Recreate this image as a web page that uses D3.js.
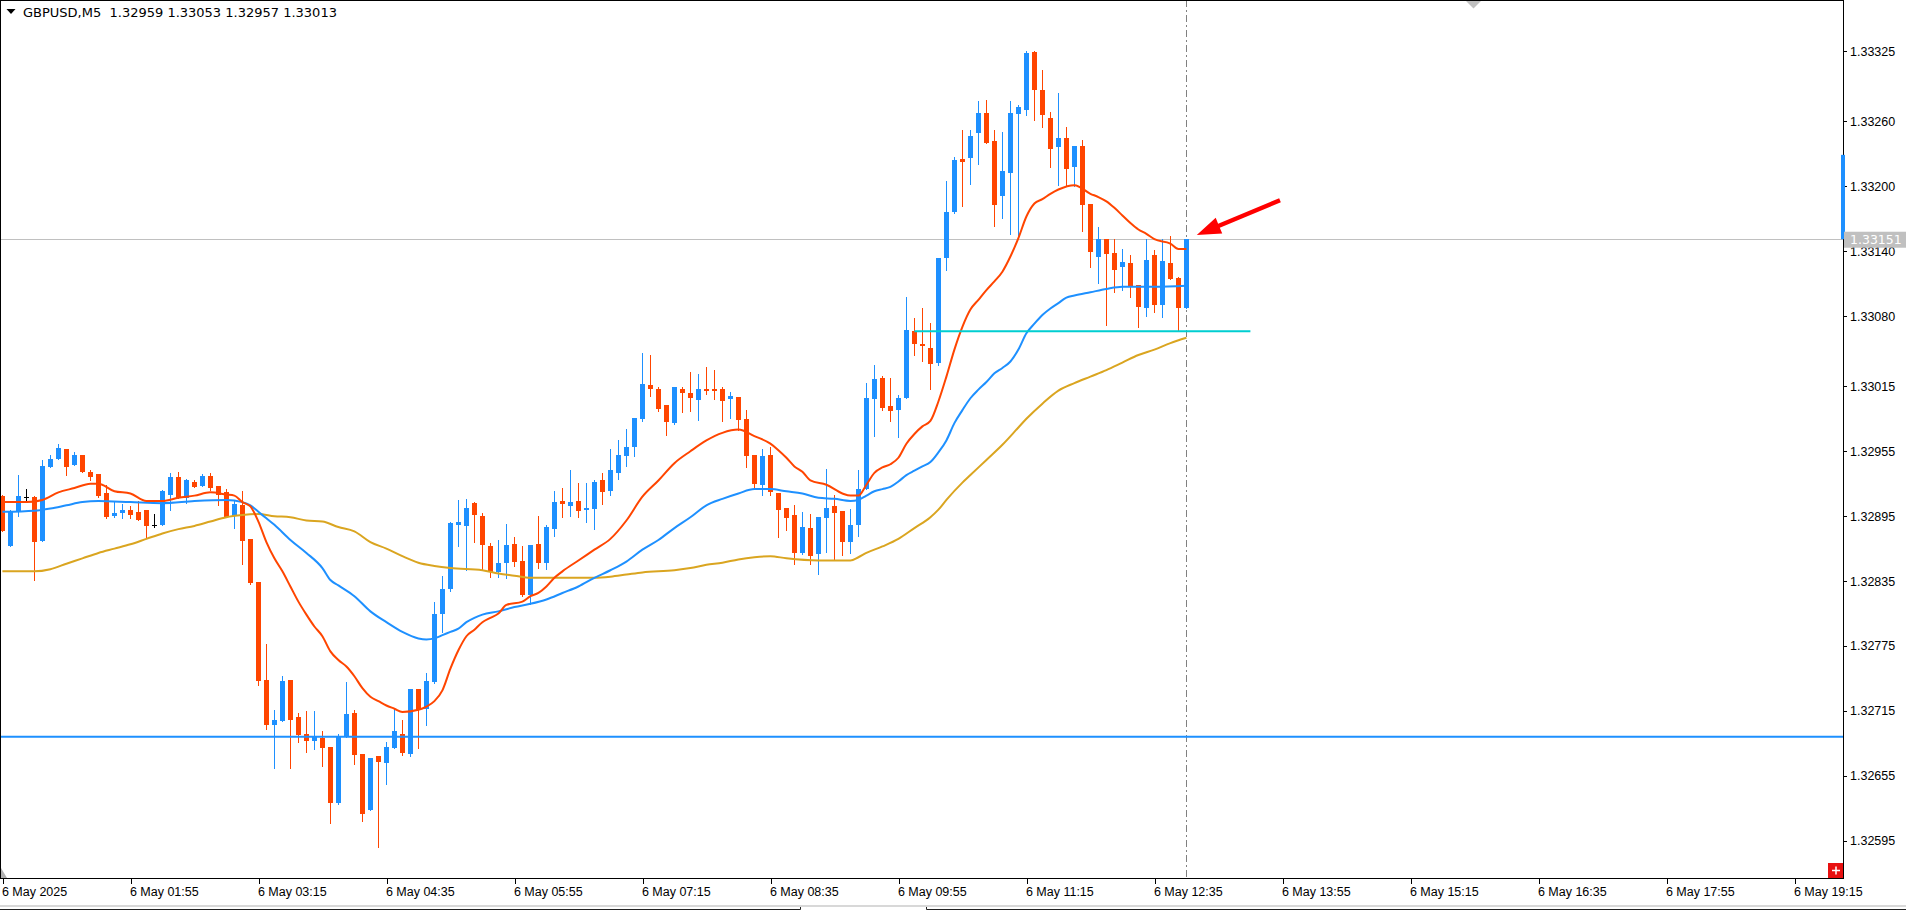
<!DOCTYPE html>
<html>
<head>
<meta charset="utf-8">
<title>GBPUSD,M5</title>
<script src="https://cdn.jsdelivr.net/npm/d3@7"></script>
<style>
	html, body { margin: 0; padding: 0; background: #fff; }
	svg { display: block; font-family: "DejaVu Sans", Verdana, sans-serif; }
	.axis text { font-size: 12.5px; fill: #000; }
	.axis line { stroke: #000; shape-rendering: crispEdges; }
</style>
</head>
<body>
<svg id="chart"></svg>
<script>
'use strict';

// GBPUSD M5, bar 0 = 6 May 00:35, one bar every 5 minutes
var opens = [
	1.32914,1.32867,1.32899,1.32913,1.32913,1.32872,1.32940,1.32948,1.32957,1.32942,
	1.32952,1.32936,1.32934,1.32916,1.32895,1.32898,1.32901,1.32899,1.32901,1.32887,
	1.32887,1.32915,1.32931,1.32912,1.32927,1.32923,1.32932,1.32923,1.32917,1.32895,
	1.32905,1.32874,1.32834,1.32744,1.32702,1.32706,1.32744,1.32709,1.32694,1.32687,
	1.32690,1.32682,1.32630,1.32691,1.32713,1.32675,1.32623,1.32673,1.32667,1.32681,
	1.32694,1.32675,1.32735,1.32717,1.32742,1.32805,1.32828,1.32887,1.32886,1.32907,
	1.32895,1.32867,1.32843,1.32852,1.32869,1.32854,1.32822,1.32869,1.32852,1.32883,
	1.32909,1.32904,1.32909,1.32901,1.32902,1.32928,1.32918,1.32935,1.32951,1.32959,
	1.32985,1.33016,1.33013,1.32998,1.32981,1.33013,1.33009,1.33002,1.33013,1.33013,
	1.33013,1.33003,1.33005,1.32985,1.32952,1.32924,1.32952,1.32916,1.32903,1.32896,
	1.32861,1.32884,1.32860,1.32893,1.32904,1.32900,1.32871,1.32887,1.32920,1.33003,
	1.33023,1.32997,1.32993,1.33004,1.33066,1.33054,1.33050,1.33037,1.33134,1.33176,
	1.33225,1.33226,1.33249,1.33268,1.33242,1.33191,1.33212,1.33267,1.33270,1.33324,
	1.33289,1.33263,1.33236,1.33245,1.33218,1.33237,1.33184,1.33135,1.33151,1.33138,
	1.33125,1.33129,1.33109,1.33087,1.33136,1.33090,1.33129,1.33115,1.33087
];
var highs = [
	1.32915,1.32901,1.32933,1.32920,1.32914,1.32947,1.32952,1.32962,1.32957,1.32954,
	1.32952,1.32938,1.32934,1.32924,1.32909,1.32906,1.32904,1.32909,1.32901,1.32897,
	1.32919,1.32935,1.32936,1.32929,1.32928,1.32934,1.32935,1.32923,1.32920,1.32910,
	1.32918,1.32874,1.32834,1.32777,1.32716,1.32747,1.32744,1.32713,1.32715,1.32715,
	1.32696,1.32682,1.32694,1.32742,1.32716,1.32675,1.32671,1.32673,1.32686,1.32717,
	1.32707,1.32735,1.32735,1.32750,1.32816,1.32840,1.32890,1.32910,1.32911,1.32908,
	1.32898,1.32870,1.32873,1.32888,1.32876,1.32867,1.32868,1.32895,1.32887,1.32918,
	1.32921,1.32938,1.32926,1.32926,1.32928,1.32935,1.32957,1.32965,1.32976,1.32986,
	1.33046,1.33044,1.33014,1.32998,1.33014,1.33014,1.33028,1.33026,1.33033,1.33030,
	1.33014,1.33010,1.33005,1.32993,1.32952,1.32957,1.32959,1.32916,1.32903,1.32905,
	1.32899,1.32897,1.32894,1.32939,1.32915,1.32900,1.32902,1.32938,1.33018,1.33035,
	1.33025,1.33023,1.33007,1.33098,1.33078,1.33087,1.33074,1.33134,1.33205,1.33227,
	1.33252,1.33252,1.33279,1.33280,1.33252,1.33250,1.33279,1.33275,1.33325,1.33325,
	1.33307,1.33269,1.33286,1.33255,1.33237,1.33243,1.33184,1.33162,1.33151,1.33151,
	1.33142,1.33136,1.33109,1.33151,1.33141,1.33151,1.33154,1.33116,1.33151
];
var lows = [
	1.32881,1.32867,1.32895,1.32909,1.32836,1.32872,1.32940,1.32948,1.32933,1.32942,
	1.32936,1.32928,1.32913,1.32893,1.32894,1.32893,1.32893,1.32891,1.32876,1.32885,
	1.32887,1.32901,1.32912,1.32907,1.32922,1.32923,1.32919,1.32905,1.32894,1.32884,
	1.32851,1.32832,1.32739,1.32698,1.32662,1.32706,1.32662,1.32686,1.32677,1.32680,
	1.32664,1.32611,1.32629,1.32691,1.32666,1.32613,1.32623,1.32589,1.32647,1.32681,
	1.32674,1.32673,1.32681,1.32702,1.32741,1.32788,1.32826,1.32867,1.32845,1.32871,
	1.32845,1.32839,1.32839,1.32838,1.32849,1.32821,1.32814,1.32847,1.32846,1.32877,
	1.32894,1.32895,1.32894,1.32890,1.32883,1.32906,1.32915,1.32929,1.32941,1.32951,
	1.32983,1.33006,1.32992,1.32970,1.32980,1.32991,1.32992,1.32984,1.33008,1.33003,
	1.32983,1.32986,1.32975,1.32940,1.32921,1.32915,1.32915,1.32876,1.32882,1.32851,
	1.32860,1.32851,1.32842,1.32862,1.32855,1.32859,1.32861,1.32877,1.32920,1.32969,
	1.32993,1.32983,1.32968,1.33004,1.33044,1.33038,1.33013,1.33035,1.33123,1.33175,
	1.33182,1.33202,1.33221,1.33240,1.33163,1.33171,1.33156,1.33153,1.33266,1.33261,
	1.33255,1.33218,1.33201,1.33200,1.33200,1.33159,1.33125,1.33111,1.33072,1.33102,
	1.33104,1.33098,1.33070,1.33080,1.33084,1.33079,1.33114,1.33067,1.33087
];
var closes = [
	1.32881,1.32900,1.32914,1.32913,1.32871,1.32941,1.32948,1.32958,1.32940,1.32952,
	1.32936,1.32931,1.32914,1.32894,1.32898,1.32901,1.32896,1.32891,1.32886,1.32887,
	1.32918,1.32931,1.32912,1.32928,1.32922,1.32932,1.32921,1.32915,1.32894,1.32906,
	1.32872,1.32833,1.32743,1.32702,1.32707,1.32743,1.32707,1.32693,1.32687,1.32691,
	1.32681,1.32630,1.32691,1.32712,1.32674,1.32620,1.32671,1.32668,1.32682,1.32696,
	1.32676,1.32735,1.32716,1.32743,1.32805,1.32828,1.32889,1.32890,1.32903,1.32896,
	1.32868,1.32843,1.32852,1.32868,1.32853,1.32822,1.32868,1.32852,1.32885,1.32908,
	1.32906,1.32908,1.32900,1.32903,1.32927,1.32917,1.32938,1.32952,1.32959,1.32986,
	1.33017,1.33013,1.32994,1.32982,1.33014,1.33009,1.33004,1.33013,1.33011,1.33011,
	1.33001,1.33006,1.32984,1.32951,1.32925,1.32951,1.32917,1.32901,1.32893,1.32861,
	1.32885,1.32858,1.32894,1.32903,1.32898,1.32871,1.32887,1.32920,1.33004,1.33022,
	1.32995,1.32992,1.33004,1.33067,1.33054,1.33052,1.33036,1.33134,1.33176,1.33224,
	1.33222,1.33246,1.33268,1.33240,1.33183,1.33214,1.33268,1.33273,1.33323,1.33289,
	1.33266,1.33234,1.33245,1.33216,1.33237,1.33183,1.33139,1.33151,1.33137,1.33123,
	1.33130,1.33107,1.33088,1.33132,1.33090,1.33131,1.33114,1.33087,1.33151
];

// moving averages, [bar, price]
var maFast = [
	[0,1.32908],[3,1.32908],[5,1.32910],[7,1.32917],[9,1.32921],[11,1.32925],[12,1.32925],
	[14,1.32918],[16,1.32916],[18,1.32909],[20,1.32909],[22,1.32912],[24,1.32914],[26,1.32917],
	[28,1.32915],[29,1.32914],[30,1.32908],[31,1.32904],[32,1.32890],[33,1.32871],[34,1.32856],
	[35,1.32844],[36,1.32830],[37,1.32816],[38,1.32804],[39,1.32793],[40,1.32784],[41,1.32770],
	[42,1.32762],[43,1.32756],[44,1.32747],[45,1.32736],[46,1.32728],[47,1.32724],[48,1.32720],
	[49,1.32717],[50,1.32714],[52,1.32716],[53,1.32719],[54,1.32724],[55,1.32734],[56,1.32754],
	[57,1.32771],[58,1.32784],[59,1.32790],[60,1.32797],[61,1.32801],[62,1.32805],[63,1.32813],
	[65,1.32816],[66,1.32821],[67,1.32824],[68,1.32830],[69,1.32838],[70,1.32844],[72,1.32854],
	[74,1.32864],[76,1.32874],[78,1.32891],[80,1.32913],[82,1.32928],[84,1.32944],[86,1.32955],
	[88,1.32965],[90,1.32972],[92,1.32975],[94,1.32969],[96,1.32962],[97,1.32956],[98,1.32949],
	[99,1.32941],[100,1.32936],[101,1.32928],[103,1.32924],[105,1.32916],[106,1.32914],[107,1.32914],
	[108,1.32924],[109,1.32935],[110,1.32940],[111,1.32943],[112,1.32949],[113,1.32962],[114,1.32971],
	[115,1.32978],[116,1.32983],[117,1.33001],[118,1.33024],[119,1.33049],[120,1.33070],[121,1.33086],
	[122,1.33095],[123,1.33104],[124,1.33112],[125,1.33121],[126,1.33135],[127,1.33152],[128,1.33172],
	[129,1.33184],[130,1.33188],[131,1.33193],[132,1.33197],[134,1.33201],[136,1.33193],[137,1.33190],
	[138,1.33186],[139,1.33180],[140,1.33173],[141,1.33166],[142,1.33160],[143,1.33156],[144,1.33151],
	[146,1.33147],[147,1.33142],[148,1.33142]
];
var maMid = [
	[0,1.32899],[4,1.32900],[6,1.32902],[8,1.32905],[10,1.32908],[12,1.32909],[16,1.32908],
	[20,1.32907],[24,1.32909],[28,1.32910],[30,1.32908],[31,1.32905],[32,1.32899],[33,1.32893],
	[34,1.32887],[36,1.32873],[38,1.32861],[40,1.32847],[41,1.32836],[42,1.32831],[44,1.32821],
	[46,1.32807],[48,1.32797],[50,1.32788],[52,1.32782],[53,1.32781],[54,1.32782],[55,1.32785],
	[56,1.32788],[57,1.32791],[58,1.32797],[59,1.32801],[60,1.32804],[62,1.32807],[64,1.32811],
	[66,1.32814],[68,1.32818],[70,1.32824],[72,1.32830],[74,1.32838],[76,1.32845],[78,1.32853],
	[80,1.32864],[82,1.32873],[84,1.32884],[86,1.32894],[88,1.32905],[90,1.32911],[92,1.32916],
	[94,1.32920],[96,1.32920],[98,1.32918],[100,1.32916],[102,1.32912],[104,1.32911],[106,1.32909],
	[107,1.32910],[108,1.32914],[109,1.32918],[110,1.32920],[111,1.32922],[112,1.32927],[113,1.32933],
	[114,1.32937],[115,1.32941],[116,1.32945],[117,1.32954],[118,1.32965],[119,1.32981],[120,1.32993],
	[121,1.33004],[122,1.33012],[123,1.33019],[124,1.33027],[125,1.33032],[126,1.33038],[127,1.33049],
	[128,1.33064],[129,1.33073],[130,1.33081],[131,1.33087],[132,1.33092],[133,1.33097],[134,1.33099],
	[136,1.33102],[138,1.33105],[140,1.33107],[144,1.33107],[148,1.33108]
];
var maSlow = [
	[0,1.32844],[4,1.32844],[6,1.32846],[8,1.32851],[10,1.32856],[12,1.32861],[14,1.32865],
	[16,1.32869],[18,1.32874],[20,1.32879],[22,1.32883],[24,1.32886],[26,1.32890],[28,1.32894],
	[30,1.32896],[32,1.32897],[34,1.32895],[36,1.32894],[38,1.32891],[40,1.32890],[42,1.32885],
	[44,1.32881],[46,1.32871],[48,1.32865],[50,1.32858],[52,1.32852],[54,1.32849],[56,1.32847],
	[60,1.32845],[62,1.32842],[64,1.32840],[66,1.32838],[74,1.32838],[76,1.32839],[78,1.32841],
	[80,1.32843],[84,1.32845],[86,1.32847],[88,1.32850],[90,1.32852],[92,1.32855],[94,1.32857],
	[96,1.32858],[98,1.32856],[102,1.32854],[106,1.32854],[107,1.32857],[108,1.32861],[110,1.32867],
	[112,1.32874],[114,1.32884],[116,1.32894],[117,1.32901],[118,1.32910],[120,1.32926],[121,1.32933],
	[123,1.32947],[125,1.32961],[127,1.32977],[128,1.32985],[130,1.32999],[132,1.33011],[134,1.33018],
	[136,1.33024],[138,1.33030],[140,1.33037],[142,1.33044],[144,1.33049],[146,1.33055],[148,1.33060]
];

var xTickBars = [0, 16, 32, 48, 64, 80, 96, 112, 128, 144, 160, 176, 192, 208, 224];
var xTickLabels = ["6 May 2025", "6 May 01:55", "6 May 03:15", "6 May 04:35", "6 May 05:55",
	"6 May 07:15", "6 May 08:35", "6 May 09:55", "6 May 11:15", "6 May 12:35", "6 May 13:55",
	"6 May 15:15", "6 May 16:35", "6 May 17:55", "6 May 19:15"];
var yTicks = [1.32595, 1.32655, 1.32715, 1.32775, 1.32835, 1.32895, 1.32955,
	1.33015, 1.33080, 1.33140, 1.33200, 1.33260, 1.33325];

var headerText = "GBPUSD,M5  1.32959 1.33053 1.32957 1.33013";
var bidPrice = 1.33151;
var supportLevel = 1.32691;              // full-width blue level
var zoneLevel = [114, 156, 1.33066];     // short cyan level: from bar, to bar, price
var rightBar = [1.33151, 1.33229];       // blue marker on the price scale
var arrowFrom = [159.7, 1.33187], arrowTo = [149.3, 1.33155];

var width = 1906, height = 910;
var plotRight = 1843, plotBottom = 878;

var svg = d3.select('#chart').attr('width', width).attr('height', height);
svg.append('rect').attr('width', width).attr('height', height).attr('fill', '#fff');

// bar index -> x, price -> y
var x = d3.scaleLinear().domain([0, 224]).range([2.4, 1794.4]);
var y = d3.scaleLinear().domain([1.32595, 1.33325]).range([840.7, 51]);
var px = function(i) { return Math.round(x(i)) + 0.5; };

svg.append('defs').append('clipPath').attr('id', 'plot-clip')
	.append('rect').attr('x', 0).attr('y', 0).attr('width', plotRight).attr('height', plotBottom);

var plot = svg.append('g').attr('clip-path', 'url(#plot-clip)');

// bid line
plot.append('line')
	.attr('x1', 0).attr('x2', plotRight)
	.attr('y1', Math.round(y(bidPrice)) + 0.5).attr('y2', Math.round(y(bidPrice)) + 0.5)
	.attr('stroke', '#c0c0c0').attr('stroke-width', 1);

// current bar separator
plot.append('line')
	.attr('x1', px(opens.length - 1)).attr('x2', px(opens.length - 1))
	.attr('y1', 0).attr('y2', plotBottom)
	.attr('stroke', '#808080').attr('stroke-width', 1)
	.attr('stroke-dasharray', '7,3,2,3');

// candles
var bars = d3.range(opens.length).map(function(i) {
	return { i: i, o: opens[i], h: highs[i], l: lows[i], c: closes[i] };
});
var candleColor = function(d) {
	if (d.c > d.o) return '#1e90ff';
	if (d.c < d.o) return '#ff4500';
	return '#000';
};

var candles = plot.append('g').attr('class', 'candles')
	.selectAll('g').data(bars).enter().append('g');

candles.append('line')
	.attr('x1', function(d) { return px(d.i); })
	.attr('x2', function(d) { return px(d.i); })
	.attr('y1', function(d) { return Math.round(y(d.h)); })
	.attr('y2', function(d) { return Math.round(y(d.l)) + 1; })
	.attr('stroke', candleColor).attr('stroke-width', 1)
	.attr('shape-rendering', 'crispEdges');

candles.append('rect')
	.attr('x', function(d) { return Math.round(x(d.i)) - 2; })
	.attr('width', 5)
	.attr('y', function(d) { return Math.round(y(Math.max(d.o, d.c))); })
	.attr('height', function(d) {
		return Math.max(1, Math.round(y(Math.min(d.o, d.c))) - Math.round(y(Math.max(d.o, d.c))));
	})
	.attr('fill', candleColor)
	.attr('shape-rendering', 'crispEdges');

// moving averages
var maLine = d3.line()
	.x(function(d) { return x(d[0]); })
	.y(function(d) { return y(d[1]); })
	.curve(d3.curveMonotoneX);

[[maSlow, '#daa520'], [maMid, '#1e90ff'], [maFast, '#ff4500']].forEach(function(m) {
	plot.append('path').datum(m[0])
		.attr('d', maLine)
		.attr('fill', 'none')
		.attr('stroke', m[1])
		.attr('stroke-width', 2);
});

// levels
plot.append('line')
	.attr('x1', 0).attr('x2', plotRight)
	.attr('y1', y(supportLevel)).attr('y2', y(supportLevel))
	.attr('stroke', '#1e90ff').attr('stroke-width', 2);

plot.append('line')
	.attr('x1', x(zoneLevel[0])).attr('x2', x(zoneLevel[1]))
	.attr('y1', y(zoneLevel[2])).attr('y2', y(zoneLevel[2]))
	.attr('stroke', '#00ced1').attr('stroke-width', 2);

// red arrow pointing at the last candle
var tail = [x(arrowFrom[0]), y(arrowFrom[1])];
var tip = [x(arrowTo[0]), y(arrowTo[1])];
var adx = tip[0] - tail[0], ady = tip[1] - tail[1];
var alen = Math.sqrt(adx * adx + ady * ady);
var ux = adx / alen, uy = ady / alen, nx = -uy, ny = ux;
var headLen = 24, headHalf = 8.5, shaftHalf = 2.2;
var bx = tip[0] - ux * headLen, by = tip[1] - uy * headLen;
var arrowPts = [
	[tail[0] + nx * shaftHalf, tail[1] + ny * shaftHalf],
	[bx + nx * shaftHalf, by + ny * shaftHalf],
	[bx + nx * headHalf, by + ny * headHalf],
	tip,
	[bx - nx * headHalf, by - ny * headHalf],
	[bx - nx * shaftHalf, by - ny * shaftHalf],
	[tail[0] - nx * shaftHalf, tail[1] - ny * shaftHalf]
];
plot.append('polygon')
	.attr('points', arrowPts.map(function(p) { return p.join(','); }).join(' '))
	.attr('fill', '#ff0000');

// shift marker at top
plot.append('polygon')
	.attr('points', '1466,1 1481,1 1473.5,8.5')
	.attr('fill', '#c0c0c0');
// small corner marker bottom-left
svg.append('polygon')
	.attr('points', '1,868 1,878 7,878')
	.attr('fill', '#b0b0b0');

// frame
svg.append('path')
	.attr('d', 'M0.5,' + (plotBottom + 0.5) + 'V0.5H' + (plotRight + 0.5) + 'V' + (plotBottom + 0.5) + 'H0.5')
	.attr('fill', 'none').attr('stroke', '#000').attr('stroke-width', 1)
	.attr('shape-rendering', 'crispEdges');

// x axis
var xAxis = d3.axisBottom(x)
	.tickValues(xTickBars)
	.tickFormat(function(d, i) { return xTickLabels[i]; })
	.tickSize(5)
	.tickSizeOuter(0);
var gx = svg.append('g').attr('class', 'axis x-axis')
	.attr('transform', 'translate(0,' + (plotBottom + 0.5) + ')')
	.call(xAxis);
gx.select('.domain').remove();
gx.selectAll('.tick line').attr('transform', 'translate(0.1,0)');
gx.selectAll('.tick text').attr('text-anchor', 'start').attr('x', -1).attr('y', 9);

// y axis
var yAxis = d3.axisRight(y)
	.tickValues(yTicks)
	.tickFormat(d3.format('.5f'))
	.tickSize(3)
	.tickSizeOuter(0);
var gy = svg.append('g').attr('class', 'axis y-axis')
	.attr('transform', 'translate(' + (plotRight + 0.5) + ',0)')
	.call(yAxis);
gy.select('.domain').remove();
gy.selectAll('.tick text').attr('x', 6.5);

// blue marker on the price scale
svg.append('rect')
	.attr('x', plotRight - 2).attr('width', 4)
	.attr('y', y(rightBar[1])).attr('height', y(rightBar[0]) - y(rightBar[1]))
	.attr('fill', '#1e90ff');

// bid label
svg.append('rect')
	.attr('x', plotRight + 1).attr('width', width - plotRight - 1)
	.attr('y', y(bidPrice) - 7.5).attr('height', 16)
	.attr('fill', '#c0c0c0');
svg.append('text')
	.attr('x', plotRight + 7).attr('y', y(bidPrice))
	.attr('dy', '0.36em')
	.attr('font-size', '12.5px')
	.attr('fill', '#fff')
	.text(d3.format('.5f')(bidPrice));

// header
svg.append('polygon').attr('points', '6.5,9 15.5,9 11,14').attr('fill', '#000');
svg.append('text')
	.attr('x', 23).attr('y', 17)
	.attr('font-size', '13px')
	.attr('fill', '#000')
	.style('white-space', 'pre')
	.text(headerText);

// red corner button
svg.append('rect')
	.attr('x', plotRight - 15).attr('y', plotBottom - 15)
	.attr('width', 15).attr('height', 15)
	.attr('fill', '#e81010');
svg.append('path')
	.attr('d', 'M' + (plotRight - 11) + ',' + (plotBottom - 7.5) + 'h8M' + (plotRight - 7) + ',' + (plotBottom - 11.5) + 'v8')
	.attr('stroke', '#fff').attr('stroke-width', 1.5);

// window bottom edge / tabs
svg.append('line')
	.attr('x1', 0).attr('x2', width).attr('y1', 906).attr('y2', 906)
	.attr('stroke', '#d8d8d8').attr('stroke-width', 2);
svg.append('path')
	.attr('d', 'M0,909.5H800.5V907M926.5,907V909.5H1906')
	.attr('fill', 'none').attr('stroke', '#222').attr('stroke-width', 1);
</script>
</body>
</html>
